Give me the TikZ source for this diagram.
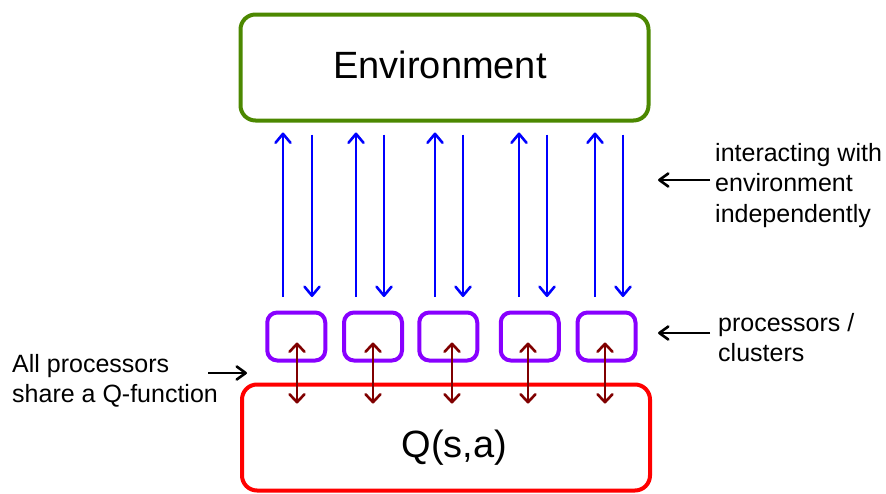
\documentclass[tikz,border=0pt]{standalone}
\usepackage{fontspec}
\setmainfont{Liberation Sans}
\usetikzlibrary{arrows.meta,calc}

\definecolor{envgreen}{RGB}{76,136,0}
\definecolor{procviolet}{RGB}{136,0,255}
\definecolor{qred}{RGB}{255,0,0}
\definecolor{flowblue}{RGB}{0,0,255}
\definecolor{sharebrown}{RGB}{128,0,0}

\begin{document}
\begin{tikzpicture}[x=1pt,y=-1pt,
  box/.style={draw, line width=4pt, inner sep=0pt},
  bigbox/.style={box, rounded corners=15pt, minimum width=408pt, minimum height=106pt},
  procbox/.style={box, draw=procviolet, rounded corners=10pt, minimum width=58pt, minimum height=48pt},
  bigtext/.style={font=\fontsize{38}{44}\selectfont, inner sep=0pt, anchor=base},
  note/.style={font=\fontsize{25}{30.5}\selectfont, align=left, inner sep=0pt, anchor=north west},
  flow/.style={draw=flowblue, line width=2pt, -{Straight Barb[length=9pt,width=15pt,line width=2.6pt,round]}},
  share/.style={draw=sharebrown, line width=1.8pt, {Straight Barb[length=8pt,width=15pt,line width=2.6pt,round]}-{Straight Barb[length=8pt,width=15pt,line width=2.6pt,round]}},
  pointer/.style={line width=2pt, -{Straight Barb[length=9pt,width=13pt,line width=2.6pt,round]}}
]
\useasboundingbox (0,0) rectangle (886,493);

% environment and shared Q-function
\node[bigbox, draw=envgreen] (env) at (444.5,67.5) {};
\node[bigtext] (envlabel) at (440,78) {Environment};
\node[bigbox, draw=qred] (q) at (446,437.5) {};
\node[bigtext] (qlabel) at (454.5,457) {Q(s,a)};

% processors
\node[procbox] (p1) at (296.25,336.5) {};
\node[procbox] (p2) at (373,336.5) {};
\node[procbox] (p3) at (448.25,336.5) {};
\node[procbox] (p4) at (529.75,336.5) {};
\node[procbox] (p5) at (606.5,336.5) {};

% interaction with the environment and access to Q
\foreach \i/\u/\d/\b in {1/283/312/297, 2/356/384/373, 3/435/463/452, 4/519/547/528, 5/595/623/605} {
  \coordinate (up\i) at (\u,0);
  \coordinate (dn\i) at (\d,0);
  \coordinate (br\i) at (\b,0);
  \draw[flow, shorten <=13.5pt, shorten >=10pt] (p\i.north -| up\i) -- (env.south -| up\i);
  \draw[flow, shorten <=12pt, shorten >=13.5pt] (env.south -| dn\i) -- (p\i.north -| dn\i);
  \draw[share] ($(p\i.center -| br\i)+(0,6)$) -- ($(q.north -| br\i)+(0,21)$);
}

% annotations
\node[note] (lab1) at (715,143) {interacting with\\environment\\independently};
\node[note] (lab2) at (718,313) {processors /\\clusters};
\node[note] (lab3) at (12,354) {All processors\\share a Q-function};

\coordinate (t1) at (658,180);
\coordinate (t2) at (658,333);
\coordinate (s3) at (208,373);
\coordinate (t3) at (247,373);
\draw[pointer, shorten <=5pt] (lab1.west |- t1) -- (t1);
\draw[pointer, shorten <=8pt] (lab2.west |- t2) -- (t2);
\draw[pointer] (s3) -- (t3);
\end{tikzpicture}
\end{document}
